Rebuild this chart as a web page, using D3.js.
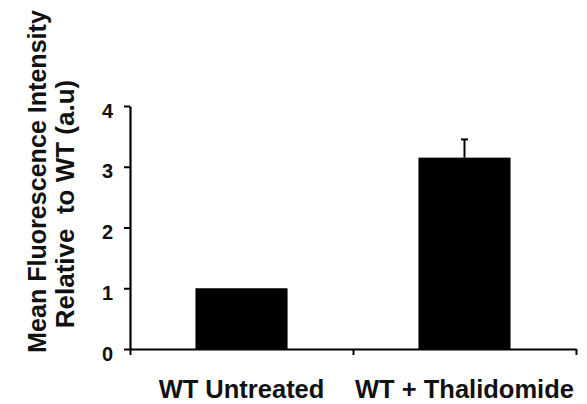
<!DOCTYPE html>
<html>
<head>
<meta charset="utf-8">
<script src="https://cdn.jsdelivr.net/npm/d3@7"></script>
<style>
  html, body { margin: 0; padding: 0; background: #fff; }
  svg { display: block; }
  text { font-family: "Liberation Sans", Arial, sans-serif; font-weight: bold; fill: #111; }
</style>
</head>
<body>
<svg id="chart" width="587" height="404"></svg>
<script>
const categories = ["WT Untreated", "WT + Thalidomide"];
const values = [1.0, 3.15];
const errors = [0, 0.3];
const yTicks = [0, 1, 2, 3, 4];
const yTitleLines = ["Mean Fluorescence Intensity", "Relative  to WT (a.u)"];

(function () {
const svg = d3.select("#chart");
const mLeft = 130, mRight = 576, mTop = 106, mBottom = 349;

const y = d3.scaleLinear().domain([0, 4]).range([mBottom, mTop]);
const x = d3.scaleBand().domain(categories).range([mLeft, mRight]).padding(0);
const xb = d3.scaleLinear().domain([0, categories.length]).range([mLeft, mRight]);
const barW = x.bandwidth() * 0.413;

// bars
svg.append("g").selectAll("rect").data(categories).join("rect")
  .attr("x", d => x(d) + (x.bandwidth() - barW) / 2)
  .attr("width", barW)
  .attr("y", (d, i) => y(values[i]))
  .attr("height", (d, i) => y(0) - y(values[i]))
  .attr("fill", "#000");

// error bars
const eg = svg.append("g").attr("stroke", "#000").attr("stroke-width", 2);
categories.forEach((c, i) => {
  if (!errors[i]) return;
  const cx = x(c) + x.bandwidth() / 2;
  eg.append("line").attr("x1", cx).attr("x2", cx)
    .attr("y1", y(values[i])).attr("y2", y(values[i] + errors[i]));
  eg.append("line").attr("x1", cx - 3.5).attr("x2", cx + 3.5)
    .attr("y1", y(values[i] + errors[i])).attr("y2", y(values[i] + errors[i]));
});

// y axis (lines via d3 axis, labels drawn explicitly)
const ya = svg.append("g").attr("transform", `translate(${mLeft},0)`)
  .call(d3.axisLeft(y).tickValues(yTicks).tickFormat("").tickSize(6).tickSizeOuter(0));
ya.select(".domain").attr("stroke", "#000").attr("stroke-width", 2.2);
ya.selectAll(".tick line").attr("stroke", "#000").attr("stroke-width", 2);
svg.append("g").selectAll("text").data(yTicks).join("text")
  .attr("x", mLeft - 17)
  .attr("y", d => y(d) + 11.5)
  .attr("text-anchor", "end")
  .style("font-size", "20px")
  .text(d => d3.format("d")(d));

// x axis (ticks at band boundaries)
const xa = svg.append("g").attr("transform", `translate(0,${mBottom})`)
  .call(d3.axisBottom(xb).tickValues(d3.range(categories.length + 1)).tickFormat("").tickSize(6).tickSizeOuter(0));
xa.select(".domain").attr("stroke", "#000").attr("stroke-width", 2);
xa.selectAll(".tick line").attr("stroke", "#000").attr("stroke-width", 2);

// x category labels
svg.append("g").selectAll("text").data(categories).join("text")
  .attr("x", d => x(d) + x.bandwidth() / 2)
  .attr("y", mBottom + 49)
  .attr("text-anchor", "middle")
  .style("font-size", "25.5px")
  .text(d => d);

// y title
const titleCfg = [[46, 181.5, 0.965], [74, 204, 1.0]];
yTitleLines.forEach((t, i) => {
  svg.append("text")
    .attr("transform", `translate(${titleCfg[i][0]},${titleCfg[i][1]}) rotate(-90) scale(${titleCfg[i][2]},1)`)
    .attr("text-anchor", "middle")
    .style("font-size", "26px")
    .style("white-space", "pre")
    .attr("xml:space", "preserve")
    .text(t);
});
})();
</script>
</body>
</html>
